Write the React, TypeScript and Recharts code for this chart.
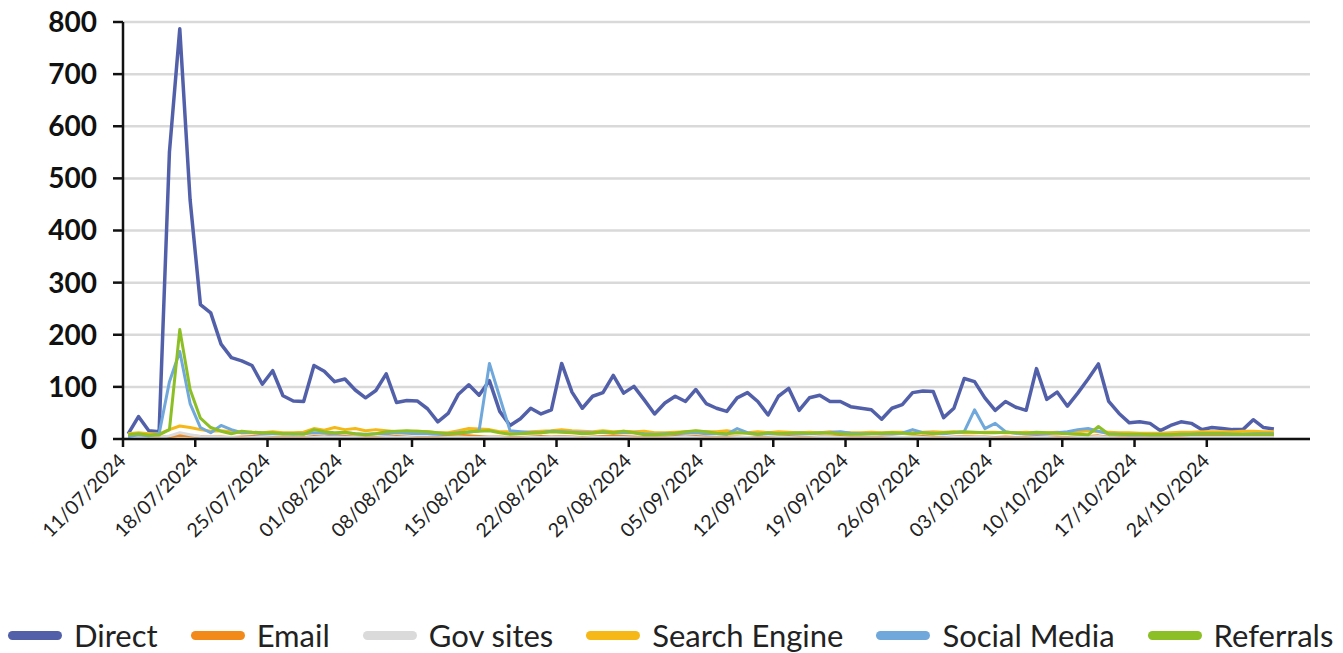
import React from "react";
import { LineChart, Line, XAxis, YAxis, CartesianGrid, Legend } from "recharts";

// daily visits, 11/07/2024 onwards (day index 0..111)
const direct = [
  10, 43, 16, 14, 551, 787, 459, 258, 242, 182, 156, 150, 141, 105, 131, 83, 73, 72, 141, 130,
  110, 115, 94, 79, 93, 125, 70, 74, 73, 58, 33, 49, 86, 104, 84, 112, 53, 26, 39, 59,
  48, 56, 145, 90, 59, 82, 89, 122, 88, 101, 75, 48, 69, 82, 72, 95, 68, 59, 53, 79,
  89, 72, 46, 82, 97, 55, 79, 84, 72, 72, 62, 59, 56, 38, 59, 66, 89, 92, 91, 41,
  59, 116, 110, 79, 55, 72, 61, 55, 135, 76, 90, 63, 88, 115, 144, 72, 49, 31, 33, 30,
  16, 26, 33, 30, 18, 22, 20, 18, 18, 37, 22, 19,
];
const email = [
  3, 4, 3, 3, 5, 7, 6, 5, 4, 4, 3, 4, 5, 4, 3, 4, 3, 3, 5, 4,
  6, 5, 4, 4, 3, 4, 5, 4, 3, 3, 4, 6, 7, 6, 5, 4, 4, 3, 3, 4,
  5, 4, 5, 4, 3, 4, 5, 6, 5, 4, 3, 3, 4, 5, 4, 5, 4, 3, 4, 4,
  3, 4, 3, 4, 5, 4, 3, 4, 4, 5, 4, 3, 3, 4, 4, 3, 4, 5, 4, 3,
  4, 5, 4, 4, 3, 4, 3, 4, 5, 4, 4, 3, 4, 5, 6, 4, 3, 3, 3, 3,
  4, 3, 4, 5, 5, 6, 6, 6, 7, 7, 7, 7,
];
const govSites = [
  2, 3, 2, 2, 6, 12, 8, 5, 4, 3, 3, 2, 3, 3, 2, 2, 2, 2, 3, 3,
  4, 3, 3, 2, 2, 3, 3, 3, 2, 2, 2, 3, 4, 3, 3, 4, 3, 2, 2, 3,
  3, 3, 4, 3, 2, 3, 3, 3, 3, 2, 2, 2, 2, 3, 3, 3, 2, 2, 2, 3,
  3, 2, 2, 3, 3, 2, 2, 3, 3, 3, 2, 2, 2, 2, 3, 3, 3, 3, 2, 2,
  3, 4, 3, 3, 2, 2, 2, 2, 3, 3, 2, 2, 3, 4, 5, 3, 2, 2, 2, 2,
  2, 2, 2, 3, 3, 3, 3, 3, 3, 3, 3, 3,
];
const searchEngine = [
  10, 12, 10, 10, 18, 25, 22, 18, 15, 16, 14, 12, 13, 12, 14, 12, 12, 13, 20, 17,
  22, 18, 20, 16, 18, 16, 14, 14, 15, 14, 12, 12, 16, 20, 19, 18, 14, 14, 13, 14,
  15, 16, 18, 16, 15, 14, 16, 14, 15, 14, 15, 12, 12, 13, 14, 15, 14, 14, 16, 13,
  12, 14, 12, 14, 13, 12, 13, 12, 14, 13, 12, 12, 13, 12, 13, 13, 12, 13, 14, 13,
  14, 12, 12, 13, 13, 12, 12, 13, 12, 12, 13, 12, 14, 16, 14, 13, 12, 12, 11, 11,
  11, 12, 13, 13, 14, 14, 14, 14, 15, 15, 14, 14,
];
const socialMedia = [
  5, 8, 6, 10, 110, 168, 68, 22, 12, 26, 18, 12, 12, 10, 10, 10, 9, 10, 12, 11,
  10, 12, 10, 9, 10, 10, 12, 11, 10, 10, 9, 10, 12, 13, 16, 145, 80, 16, 14, 12,
  12, 15, 14, 13, 12, 12, 13, 12, 12, 12, 10, 9, 10, 10, 11, 12, 10, 10, 9, 20,
  12, 9, 10, 10, 10, 10, 10, 11, 12, 14, 11, 10, 10, 10, 10, 11, 18, 12, 11, 10,
  12, 14, 56, 20, 30, 14, 11, 10, 10, 10, 12, 14, 18, 20, 15, 10, 9, 8, 8, 8,
  8, 8, 9, 9, 10, 10, 10, 9, 9, 10, 10, 10,
];
const referrals = [
  8, 10, 7, 8, 18, 210, 95, 40, 22, 15, 10, 15, 13, 12, 12, 10, 10, 9, 18, 14,
  12, 13, 10, 8, 10, 14, 15, 16, 15, 14, 12, 10, 11, 14, 15, 16, 12, 9, 10, 11,
  12, 14, 13, 12, 10, 11, 14, 12, 15, 12, 8, 8, 9, 11, 14, 16, 14, 11, 10, 12,
  11, 9, 12, 10, 11, 12, 11, 12, 11, 10, 9, 9, 10, 11, 12, 11, 10, 12, 10, 12,
  13, 14, 13, 12, 12, 13, 12, 11, 13, 12, 11, 10, 9, 8, 24, 9, 9, 9, 9, 8,
  8, 8, 9, 9, 10, 10, 10, 9, 9, 9, 9, 9,
];

const tickLabels = [
  "11/07/2024", "18/07/2024", "25/07/2024", "01/08/2024", "08/08/2024", "15/08/2024",
  "22/08/2024", "29/08/2024", "05/09/2024", "12/09/2024", "19/09/2024", "26/09/2024",
  "03/10/2024", "10/10/2024", "17/10/2024", "24/10/2024",
];
const yTicks = [0, 100, 200, 300, 400, 500, 600, 700, 800];

const series = [
  { key: "direct", name: "Direct", color: "#5260AA", width: 3.5 },
  { key: "email", name: "Email", color: "#F28A1A", width: 3 },
  { key: "gov", name: "Gov sites", color: "#DADADA", width: 3 },
  { key: "search", name: "Search Engine", color: "#F6B817", width: 3 },
  { key: "social", name: "Social Media", color: "#70A8DC", width: 3 },
  { key: "referrals", name: "Referrals", color: "#8CBF26", width: 3 },
];

const data = direct.map((v, i) => ({
  day: i,
  direct: v,
  email: email[i],
  gov: govSites[i],
  search: searchEngine[i],
  social: socialMedia[i],
  referrals: referrals[i],
}));

// weekly ticks sit on the boundary before each labelled day
const xTicks = tickLabels.map((_, k) => k * 7 - 0.5);

const font = "Lato, 'Open Sans', sans-serif";

function XTick({ x, y, index }: any) {
  const ax = x + 4;
  const ay = y + 13;
  return (
    <text
      x={ax}
      y={ay}
      transform={`rotate(-45 ${ax} ${ay})`}
      textAnchor="end"
      fontSize={19.5}
      fontFamily={font}
      fill="#222"
    >
      {tickLabels[index]}
    </text>
  );
}

function LegendBox() {
  return (
    <div style={{ display: "flex", alignItems: "center", gap: 33, height: 40, fontFamily: font, fontSize: 31, color: "#222", whiteSpace: "nowrap", lineHeight: "40px" }}>
      {series.map((s) => (
        <div key={s.key} style={{ display: "flex", alignItems: "center", height: 40 }}>
          <span style={{ display: "inline-block", width: 54, height: 9, borderRadius: 5, background: s.color, marginRight: 12 }} />
          <span>{s.name}</span>
        </div>
      ))}
    </div>
  );
}

export default function App() {
  return (
    <div style={{ position: "absolute", left: 0, top: 0, width: 1343, height: 653, background: "#fff", overflow: "hidden" }}>
      <LineChart width={1343} height={653} data={data} margin={{ top: 22, right: 33, left: 0, bottom: 0 }}>
        <CartesianGrid vertical={false} stroke="#d9d9d9" strokeWidth={2.5} />
        <XAxis
          dataKey="day"
          type="number"
          domain={[-0.5, 114.5]}
          ticks={xTicks}
          interval={0}
          height={214}
          tick={<XTick />}
          tickSize={8}
          tickLine={{ stroke: "#111", strokeWidth: 2.5 }}
          axisLine={{ stroke: "#111", strokeWidth: 2.5 }}
        />
        <YAxis
          domain={[0, 800]}
          ticks={yTicks}
          width={123}
          tickSize={10}
          tickMargin={16}
          tick={{ fontFamily: font, fontSize: 28, fontWeight: 700, fill: "#111" }}
          tickLine={{ stroke: "#111", strokeWidth: 2.5 }}
          axisLine={{ stroke: "#111", strokeWidth: 2.5 }}
        />
        <Legend
          layout="horizontal"
          verticalAlign="middle"
          align="center"
          wrapperStyle={{ top: 615, left: 8, width: 1335, height: 40 }}
          content={() => <LegendBox />}
        />
        {series.map((s) => (
          <Line
            key={s.key}
            dataKey={s.key}
            name={s.name}
            type="linear"
            stroke={s.color}
            strokeWidth={s.width}
            strokeLinejoin="round"
            dot={false}
            activeDot={false}
            isAnimationActive={false}
          />
        ))}
      </LineChart>
    </div>
  );
}
